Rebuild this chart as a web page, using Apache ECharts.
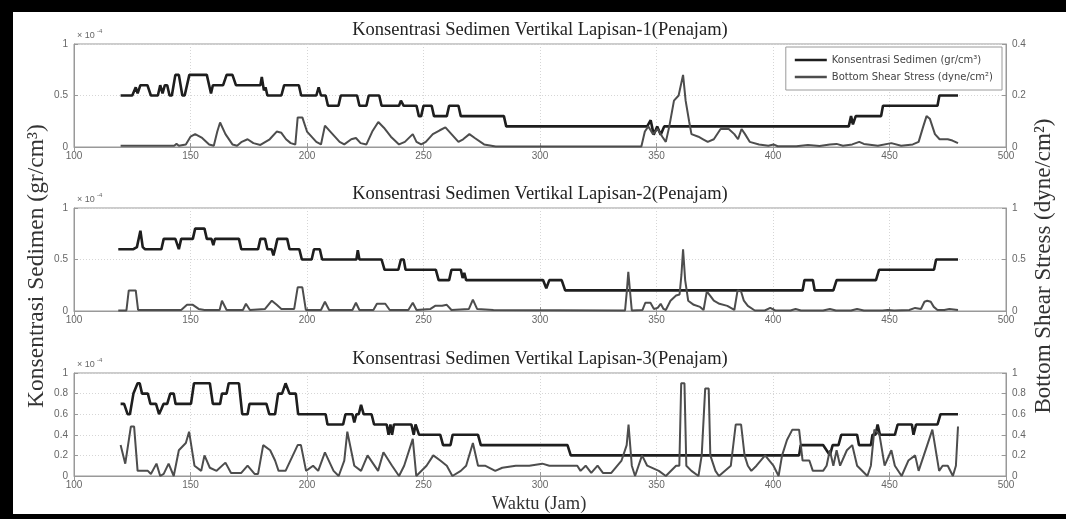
<!DOCTYPE html>
<html>
<head>
<meta charset="utf-8">
<script src="https://cdn.jsdelivr.net/npm/echarts/dist/echarts.min.js"></script>
<style>
  html, body { margin: 0; padding: 0; background: #fff; }
  #chart { width: 1066px; height: 519px; }
</style>
</head>
<body>
<div id="chart"></div>
<script>
// Time axis (hours)
const xTicks = { min: 100, max: 500, step: 50 };

const panelTitles = [
  'Konsentrasi Sedimen Vertikal Lapisan-1(Penajam)',
  'Konsentrasi Sedimen Vertikal Lapisan-2(Penajam)',
  'Konsentrasi Sedimen Vertikal Lapisan-3(Penajam)'
];
const leftRanges  = [[0, 1, 0.5], [0, 1, 0.5], [0, 1, 0.2]];
const rightRanges = [[0, 0.4, 0.2], [0, 1, 0.5], [0, 1, 0.2]];

const nameKons  = 'Konsentrasi Sedimen (gr/cm³)';
const nameShear = 'Bottom Shear Stress (dyne/cm²)';

// Layer 1 — sediment concentration (x 10^-4 gr/cm3), [hour, value]
const kons1 = [[120,0.5],[125,0.5],[126.5,0.58],[127.3,0.52],[128.5,0.6],[131.5,0.6],[133,0.5],[136,0.5],[137,0.6],[138,0.52],[139,0.6],[140,0.6],[141,0.5],[142,0.5],[143.5,0.7],[145,0.7],[146.5,0.5],[147.5,0.5],[149.5,0.7],[157,0.7],[158,0.6],[158.8,0.52],[159.6,0.6],[164,0.6],[165.5,0.7],[168,0.7],[169.5,0.6],[180,0.6],[180.6,0.68],[181.5,0.55],[182.2,0.58],[183,0.5],[189,0.5],[190.2,0.6],[196.5,0.6],[197.5,0.5],[204,0.5],[205,0.58],[206,0.5],[208,0.5],[209,0.4],[213.5,0.4],[214.5,0.5],[221.5,0.5],[222.5,0.4],[225.5,0.4],[226.5,0.5],[231,0.5],[232,0.4],[239.5,0.4],[240.3,0.45],[241.5,0.4],[247,0.4],[248,0.3],[249,0.3],[250,0.4],[253.5,0.4],[254.5,0.3],[260,0.3],[261,0.4],[265,0.4],[266,0.3],[284.5,0.3],[285.5,0.2],[346,0.2],[347.5,0.26],[348.8,0.12],[350.3,0.2],[351.8,0.12],[353.3,0.2],[432.5,0.2],[433.5,0.3],[434.3,0.22],[435.5,0.3],[446.4,0.3],[447.2,0.4],[470.6,0.4],[471.4,0.5],[479.4,0.5]];

// Layer 1 — bottom shear stress (dyne/cm2), [hour, value]
const shear1 = [[120,0.005],[143,0.005],[144,0.012],[145,0.005],[148,0.01],[150,0.04],[152,0.05],[155,0.035],[158,0.01],[160,0.005],[161.5,0.06],[162.7,0.095],[165,0.05],[168,0.01],[170,0.005],[172,0.02],[174.5,0.03],[177,0.015],[180,0.008],[184,0.03],[187,0.06],[189,0.055],[191,0.03],[193,0.015],[195,0.01],[196,0.115],[198,0.115],[200,0.06],[204,0.02],[206,0.01],[207.7,0.083],[210,0.06],[214,0.02],[216,0.01],[219,0.03],[221,0.035],[223,0.015],[225.5,0.01],[228,0.06],[230.6,0.097],[233,0.075],[236,0.04],[239.5,0.01],[242,0.02],[245.4,0.05],[247,0.02],[249,0.01],[251,0.02],[254,0.05],[257,0.065],[259.4,0.076],[262,0.05],[265,0.02],[267,0.03],[269.7,0.05],[272,0.035],[276,0.01],[281,0.002],[343.5,0.002],[345,0.06],[346.5,0.08],[348.5,0.05],[350.5,0.07],[352.5,0.04],[354,0.02],[355.5,0.08],[357.5,0.18],[359.5,0.2],[361.4,0.28],[362.5,0.18],[364,0.1],[365,0.05],[368,0.04],[370,0.03],[372,0.02],[374.6,0.03],[377.5,0.07],[381,0.07],[383.4,0.05],[385,0.03],[386.5,0.07],[388,0.05],[390,0.02],[394,0.01],[398,0.005],[400.2,0.01],[402,0.003],[410,0.003],[415,0.008],[420,0.004],[424.4,0.01],[427.3,0.012],[430,0.005],[434,0.01],[437,0.02],[439,0.012],[445,0.005],[450.8,0.015],[455,0.005],[460,0.01],[462.5,0.02],[464.5,0.08],[465.9,0.12],[467.3,0.11],[469.5,0.05],[471.5,0.03],[475,0.03],[477,0.025],[479.4,0.015]];

// Layer 2 — sediment concentration
const kons2 = [[119,0.6],[125.5,0.6],[127,0.62],[128.5,0.78],[129.5,0.62],[130.5,0.6],[137.5,0.6],[138.5,0.7],[143.5,0.7],[145,0.6],[146,0.7],[151,0.7],[152,0.8],[156,0.8],[157,0.7],[159,0.7],[159.8,0.64],[160.5,0.7],[170.8,0.7],[171.8,0.6],[179,0.6],[180,0.7],[182,0.7],[183,0.6],[184.8,0.6],[185.6,0.54],[186.5,0.62],[187.3,0.7],[191.5,0.7],[192.5,0.6],[196.7,0.6],[197.8,0.5],[202,0.5],[203,0.6],[205.5,0.6],[206.5,0.5],[221.2,0.5],[221.8,0.59],[222.5,0.5],[232,0.5],[233.3,0.4],[239.2,0.4],[240.3,0.5],[241.5,0.5],[242.3,0.4],[255.3,0.4],[256.5,0.3],[261,0.3],[262,0.4],[266,0.4],[266.8,0.32],[267.5,0.37],[268.3,0.3],[301.3,0.3],[302.7,0.22],[304,0.3],[309.3,0.3],[310.8,0.2],[412.7,0.2],[413.5,0.3],[417.1,0.3],[417.9,0.2],[425.9,0.2],[427.3,0.3],[444.2,0.3],[445.5,0.4],[469.1,0.4],[470,0.5],[479.4,0.5]];

// Layer 2 — bottom shear stress
const shear2 = [[119,0.005],[122.5,0.005],[123.5,0.2],[126.5,0.2],[127.5,0.01],[146,0.01],[148.5,0.06],[151,0.06],[153.5,0.02],[156,0.01],[162.5,0.01],[163.5,0.1],[165.5,0.01],[172.5,0.01],[173.8,0.07],[175.5,0.01],[182,0.02],[184.9,0.1],[187,0.06],[189,0.02],[194.5,0.02],[196,0.23],[198,0.23],[199.5,0.01],[206,0.01],[207.7,0.09],[209.5,0.01],[219.5,0.01],[221,0.08],[222.5,0.01],[228.5,0.01],[230,0.07],[233.6,0.07],[235.5,0.01],[243.5,0.01],[245.4,0.08],[247,0.01],[253,0.02],[255,0.05],[258,0.05],[260,0.06],[262,0.01],[269.5,0.02],[271.2,0.11],[273,0.02],[280,0.01],[336.5,0.005],[337.3,0.2],[337.9,0.38],[338.6,0.2],[339.4,0.005],[344,0.01],[345.2,0.08],[347.4,0.08],[348.9,0.02],[350.5,0.03],[351.8,0.07],[353,0.02],[354,0.01],[356,0.1],[358.4,0.15],[359.9,0.16],[360.7,0.35],[361.4,0.6],[362.3,0.3],[363.6,0.1],[366,0.06],[368.7,0.04],[370.2,0.01],[371.6,0.19],[373,0.15],[374.6,0.1],[377,0.07],[380.4,0.05],[383.4,0.01],[384.8,0.2],[386.3,0.19],[387.5,0.1],[389.2,0.05],[392.2,0.005],[396.5,0.005],[398.8,0.03],[401,0.005],[407.5,0.005],[409.7,0.02],[412,0.005],[421.5,0.005],[424.4,0.02],[427,0.005],[433.5,0.005],[436.1,0.02],[439,0.005],[447,0.005],[449.3,0.01],[452,0.005],[458.5,0.01],[461,0.03],[463.5,0.02],[465,0.09],[466.2,0.1],[467.7,0.09],[469,0.04],[470.6,0.01],[473.5,0.01],[475.7,0.02],[479.4,0.01]];

// Layer 3 — sediment concentration
const kons3 = [[120,0.7],[121.5,0.7],[123,0.6],[124,0.6],[125.5,0.8],[127.3,0.9],[128.2,0.9],[129.2,0.8],[131.7,0.8],[132.8,0.7],[135.2,0.7],[136.5,0.6],[137.5,0.65],[138.4,0.7],[140,0.7],[141.3,0.8],[142.8,0.8],[143.6,0.7],[150.2,0.7],[151.5,0.9],[158.3,0.9],[159.6,0.7],[162.7,0.7],[163.5,0.8],[165.5,0.8],[166.4,0.9],[170.8,0.9],[172.2,0.6],[174.5,0.6],[175.3,0.7],[182.6,0.7],[183.8,0.6],[186.3,0.6],[187.6,0.8],[189.3,0.8],[190.8,0.9],[192.5,0.8],[195.2,0.8],[196.2,0.6],[208,0.6],[208.8,0.5],[215.5,0.5],[216.5,0.6],[219.5,0.6],[220.3,0.52],[221.2,0.6],[222.2,0.6],[223.2,0.69],[224.3,0.6],[227.7,0.6],[228.8,0.5],[234.2,0.5],[235,0.4],[235.8,0.5],[236.5,0.4],[237.3,0.5],[244.8,0.5],[245.8,0.4],[246.6,0.5],[247.2,0.5],[248.1,0.4],[257.2,0.4],[258.4,0.3],[261.6,0.3],[262.5,0.4],[273.4,0.4],[274.6,0.3],[311.8,0.3],[313.2,0.2],[411.2,0.2],[411.9,0.3],[421.5,0.3],[423,0.25],[424.4,0.2],[425.6,0.3],[428.1,0.3],[429.3,0.4],[436.1,0.4],[436.9,0.3],[442,0.3],[442.7,0.4],[444,0.4],[444.9,0.5],[445.9,0.4],[452.3,0.4],[453.5,0.5],[459.6,0.5],[460.3,0.4],[461.4,0.5],[470.6,0.5],[471.9,0.6],[479.4,0.6]];

// Layer 3 — bottom shear stress
const shear3 = [[120,0.3],[122,0.12],[124.4,0.48],[125.8,0.48],[127.3,0.05],[131.7,0.05],[133,0.02],[135.4,0.12],[137,0.0],[138.5,0.02],[140.6,0.12],[142.8,0.0],[145,0.25],[148,0.32],[149.4,0.43],[151.7,0.1],[154.6,0.05],[156,0.2],[158.3,0.08],[161.2,0.05],[165,0.13],[167.4,0.03],[171.8,0.03],[174.5,0.1],[177.5,0.02],[179,0.02],[181.2,0.3],[184.2,0.25],[186.3,0.15],[187.8,0.05],[190.8,0.05],[196,0.3],[197.4,0.3],[199.6,0.05],[202.6,0.1],[204.8,0.05],[207.7,0.23],[211.4,0.05],[213.6,0.0],[216,0.15],[217.3,0.43],[218,0.43],[220.3,0.1],[223.2,0.05],[226,0.2],[230.5,0.05],[232.8,0.23],[236.5,0.1],[239.5,0.0],[241.7,0.1],[245.4,0.36],[246.9,0.0],[251.3,0.1],[254.2,0.2],[257.2,0.15],[260,0.1],[262.4,0.0],[266,0.05],[268.3,0.1],[271.2,0.32],[273.4,0.1],[276.4,0.1],[280.8,0.05],[283.8,0.08],[289.6,0.1],[295.4,0.1],[301,0.12],[304,0.1],[310,0.1],[316,0.1],[317.4,0.05],[319.6,0.1],[322,0.03],[324.7,0.1],[327,0.03],[330.6,0.03],[335,0.15],[337.2,0.3],[338,0.5],[339.4,0.1],[340.8,0.0],[343.8,0.2],[346,0.1],[351,0.05],[354,0.0],[358.4,0.1],[359.8,0.1],[360.6,0.9],[362,0.9],[362.8,0.1],[365,0.05],[368,0.0],[369.4,0.2],[370.9,0.85],[372.4,0.85],[373.1,0.2],[375.3,0.05],[376.8,0.0],[381.9,0.1],[384,0.5],[386.3,0.5],[387.8,0.2],[389.2,0.1],[390.7,0.05],[392.9,0.1],[396.6,0.2],[400.2,0.1],[402.4,0.0],[403.9,0.2],[406,0.35],[408.3,0.45],[411.2,0.45],[412.7,0.15],[415.6,0.15],[417.1,0.05],[421.5,0.05],[423,0.1],[424.4,0.25],[425.9,0.1],[427.3,0.25],[428.8,0.1],[431.7,0.25],[434,0.3],[436.1,0.1],[440.5,0.0],[442,0.1],[443.5,0.45],[445.7,0.4],[447.9,0.1],[450.8,0.25],[452.3,0.1],[455.2,0.0],[458.1,0.15],[461,0.2],[462.5,0.05],[466.2,0.3],[468.4,0.45],[471.3,0.05],[472.8,0.1],[475,0.1],[477.2,0.0],[478.5,0.1],[479.4,0.48]];

const konsData  = [kons1, kons2, kons3];
const shearData = [shear1, shear2, shear3];

// ---- layout ----
const plotLeft = 74, plotRight = 60, plotH = 103;
const panelTops = [44, 208, 373];
const axisGrey = '#999';
const tickFont = { color: '#666', fontSize: 10, fontFamily: 'Liberation Sans, Arial, sans-serif' };
const dotted = { show: true, lineStyle: { color: '#d6d6d6', type: [1, 2], width: 1 } };

const grids = [], xAxes = [], yAxes = [], series = [];
panelTops.forEach((top, i) => {
  grids.push({ left: plotLeft, right: plotRight, top: top, height: plotH,
    show: true, borderColor: axisGrey, borderWidth: 1, backgroundColor: '#fff' });
  // bottom axis with labels
  xAxes.push({ gridIndex: i, type: 'value', position: 'bottom',
    min: xTicks.min, max: xTicks.max, interval: xTicks.step,
    axisLine: { show: true, lineStyle: { color: axisGrey } },
    axisTick: { show: true, inside: true, length: 4, lineStyle: { color: axisGrey } },
    axisLabel: Object.assign({ margin: 4 }, tickFont),
    splitLine: dotted });
  // top axis: ticks only
  xAxes.push({ gridIndex: i, type: 'value', position: 'top',
    min: xTicks.min, max: xTicks.max, interval: xTicks.step,
    axisLine: { show: false },
    axisTick: { show: true, inside: true, length: 4, lineStyle: { color: axisGrey } },
    axisLabel: { show: false }, splitLine: { show: false } });
  const L = leftRanges[i], R = rightRanges[i];
  yAxes.push({ gridIndex: i, type: 'value', position: 'left',
    min: L[0], max: L[1], interval: L[2],
    axisLine: { show: true, lineStyle: { color: axisGrey } },
    axisTick: { show: true, inside: true, length: 4, lineStyle: { color: axisGrey } },
    axisLabel: Object.assign({ margin: 6 }, tickFont),
    splitLine: dotted });
  yAxes.push({ gridIndex: i, type: 'value', position: 'right',
    min: R[0], max: R[1], interval: R[2],
    axisLine: { show: true, lineStyle: { color: axisGrey } },
    axisTick: { show: true, inside: true, length: 4, lineStyle: { color: axisGrey } },
    axisLabel: Object.assign({ margin: 6 }, tickFont),
    splitLine: { show: false } });

  series.push({ name: nameKons, type: 'line', xAxisIndex: 2 * i, yAxisIndex: 2 * i,
    data: konsData[i], symbol: 'none', showSymbol: false, silent: true,
    lineStyle: { color: '#1e1e1e', width: 2.6 }, itemStyle: { color: '#1e1e1e' } });
  series.push({ name: nameShear, type: 'line', xAxisIndex: 2 * i, yAxisIndex: 2 * i + 1,
    data: shearData[i], symbol: 'none', showSymbol: false, silent: true,
    lineStyle: { color: '#4d4d4d', width: 2 }, itemStyle: { color: '#4d4d4d' } });
});

const serif = '"Liberation Serif", "Times New Roman", serif';
const graphics = [];
panelTops.forEach((top, i) => {
  graphics.push({ type: 'text', x: 540, y: top - 14, silent: true,
    style: { text: panelTitles[i], font: '18.5px ' + serif, fill: '#222',
      textAlign: 'center', textVerticalAlign: 'middle' } });
  graphics.push({ type: 'text', x: 77, y: top - 8, silent: true,
    style: { text: '× 10', font: '9px "Liberation Sans", sans-serif', fill: '#666',
      textAlign: 'left', textVerticalAlign: 'middle' } });
  graphics.push({ type: 'text', x: 97, y: top - 13, silent: true,
    style: { text: '-4', font: '6px "Liberation Sans", sans-serif', fill: '#666',
      textAlign: 'left', textVerticalAlign: 'middle' } });
});
// axis titles
graphics.push({ type: 'text', x: 37, y: 266, rotation: Math.PI / 2, silent: true,
  style: { text: 'Konsentrasi Sedimen (gr/cm³)', font: '23.5px ' + serif, fill: '#333',
    textAlign: 'center', textVerticalAlign: 'middle' } });
graphics.push({ type: 'text', x: 1044, y: 266, rotation: Math.PI / 2, silent: true,
  style: { text: 'Bottom Shear Stress (dyne/cm²)', font: '23px ' + serif, fill: '#333',
    textAlign: 'center', textVerticalAlign: 'middle' } });
graphics.push({ type: 'text', x: 539, y: 504, silent: true,
  style: { text: 'Waktu (Jam)', font: '18.5px ' + serif, fill: '#333',
    textAlign: 'center', textVerticalAlign: 'middle' } });
// black frame (top, left, bottom)
[[0, 0, 1066, 12], [0, 0, 13, 519], [0, 514, 1066, 5]].forEach(r => {
  graphics.push({ type: 'rect', silent: true, z: 100,
    shape: { x: r[0], y: r[1], width: r[2], height: r[3] }, style: { fill: '#000' } });
});

const chart = echarts.init(document.getElementById('chart'), null, { renderer: 'canvas' });
chart.setOption({
  animation: false,
  backgroundColor: '#fff',
  grid: grids,
  xAxis: xAxes,
  yAxis: yAxes,
  legend: {
    data: [
      { name: nameKons, icon: 'rect', itemStyle: { color: '#1e1e1e' } },
      { name: nameShear, icon: 'rect', itemStyle: { color: '#4d4d4d' } }
    ],
    orient: 'vertical', top: 47, right: 64,
    itemWidth: 32, itemHeight: 2.5, itemGap: 7,
    padding: [8, 9, 8, 9],
    backgroundColor: '#fff', borderColor: '#9a9a9a', borderWidth: 1, borderRadius: 0,
    textStyle: { fontSize: 10, color: '#444', fontFamily: '"DejaVu Sans", sans-serif' },
    selectedMode: false
  },
  series: series,
  graphic: graphics
});
</script>
</body>
</html>
